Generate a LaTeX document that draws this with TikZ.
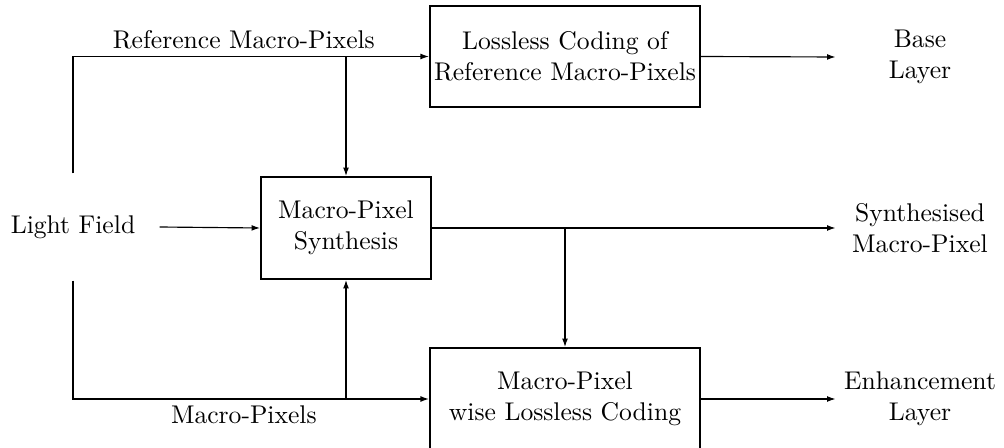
\documentclass[tikz,border=0pt]{standalone}
\usetikzlibrary{arrows.meta}
\begin{document}
\begin{tikzpicture}[x=0.3906pt,y=-0.3906pt,
  blk/.style={draw,line width=0.8pt,align=center,inner sep=0pt},
  lbl/.style={align=center,inner sep=0pt},
  con/.style={line width=0.45pt,-{Latex[length=3.3pt,width=2.3pt]}}]
\useasboundingbox (0,0) rectangle (1004,448);
\node[lbl,minimum width=67.2pt,minimum height=41.4pt] (lf) at (73,227) {Light Field};
\node[blk,minimum width=105.5pt,minimum height=39.5pt] (b1) at (565,56.5) {Lossless Coding of\\Reference Macro-Pixels};
\node[blk,minimum width=66.4pt,minimum height=39.8pt] (b2) at (346,228) {Macro-Pixel\\Synthesis};
\node[blk,minimum width=105.5pt,minimum height=39.8pt] (b3) at (565,399) {Macro-Pixel\\wise Lossless Coding};
\node[lbl,minimum width=65.6pt] (o1) at (920,57) {Base\\Layer};
\node[lbl,minimum width=65.6pt] (o2) at (920,228) {Synthesised\\Macro-Pixel};
\node[lbl,minimum width=65.6pt] (o3) at (920,399) {Enhancement\\Layer};
\draw[con] (lf.north) |- node[pos=0.74,above=2.5pt,inner sep=0pt] {Reference Macro-Pixels} (b1.west);
\draw[con] (lf.south) |- node[pos=0.74,below=2.5pt,inner sep=0pt] {Macro-Pixels} (b3.west);
\draw[con] (lf.east) -- (b2.west);
\draw[con] (b2.north |- b1.west) -- (b2.north);
\draw[con] (b2.south |- b3.west) -- (b2.south);
\draw[con] (b1.east) -- (o1.west);
\draw[con] (b2.east) -- (o2.west);
\draw[con] (b3.east) -- (o3.west);
\draw[con] (b2.east -| b3.north) -- (b3.north);
\end{tikzpicture}
\end{document}
